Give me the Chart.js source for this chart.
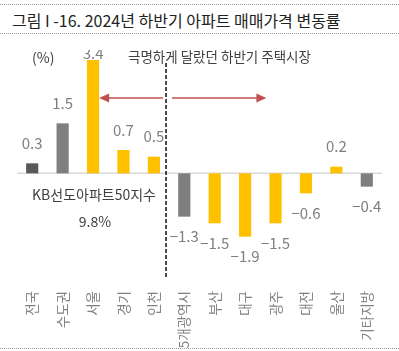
<!DOCTYPE html>
<html>
<head>
<meta charset="utf-8">
<script src="https://cdn.jsdelivr.net/npm/chart.js"></script>
<style>
  body { margin: 0; background: #fff; }
  #wrap { position: relative; width: 399px; height: 351px; overflow: hidden; font-family: 'Noto Sans CJK KR', 'Noto Sans', sans-serif; }
  #title {
    position: absolute; left: 0; top: 4px; width: 399px; height: 30px;
    border-top: 1px dotted #9a9a9a; border-bottom: 1px dotted #9a9a9a;
    line-height: 30px; padding-left: 12px; box-sizing: border-box;
    font-size: 16px; color: #222; white-space: nowrap;
  }
  #bottomLine { position: absolute; left: 0; top: 348px; width: 399px; border-top: 1px dotted #9a9a9a; }
  #chart { position: absolute; left: 0; top: 0; }
</style>
</head>
<body>
<div id="wrap">
  <div id="title">그림 I -16. 2024년 하반기 아파트 매매가격 변동률</div>
  <canvas id="chart" width="399" height="351"></canvas>
  <div id="bottomLine"></div>
</div>
<script>
// 지역 및 변동률(%)
const categories = ['전국', '수도권', '서울', '경기', '인천', '5개광역시', '부산', '대구', '광주', '대전', '울산', '기타지방'];
const changeRates = [0.3, 1.5, 3.4, 0.7, 0.5, -1.3, -1.5, -1.9, -1.5, -0.6, 0.2, -0.4];
const regionLevels = ['national', 'group', 'city', 'city', 'city', 'group', 'city', 'city', 'city', 'city', 'city', 'group'];

const unitLabel = '(%)';
const noteText = '극명하게 달랐던 하반기 주택시장';
const indexName = 'KB선도아파트50지수';
const indexValue = '9.8%';

const levelColors = { national: '#595959', group: '#7f7f7f', city: '#ffc000' };
const FONT = "'Noto Sans CJK KR', 'Noto Sans', sans-serif";

function fmt(v) {
    return v < 0 ? '\u2212' + Math.abs(v).toFixed(1) : v.toFixed(1);
}

const overlay = {
    id: 'overlay',
    beforeDatasetsDraw(chart) {
        const { ctx, chartArea, scales } = chart;
        const y0 = scales.y.getPixelForValue(0);
        ctx.save();
        ctx.strokeStyle = '#d9d9d9';
        ctx.lineWidth = 1.5;
        ctx.beginPath();
        ctx.moveTo(chartArea.left, y0);
        ctx.lineTo(chartArea.right, y0);
        ctx.stroke();
        ctx.restore();
    },
    afterDatasetsDraw(chart) {
        const { ctx, scales } = chart;
        const meta = chart.getDatasetMeta(0);

        // 값 레이블 (맨 위 레이블은 잘려 보임)
        ctx.save();
        ctx.beginPath();
        ctx.rect(0, 50, chart.width, chart.height);
        ctx.clip();
        ctx.font = '15px ' + FONT;
        ctx.fillStyle = '#7f7f7f';
        ctx.textAlign = 'center';
        ctx.textBaseline = 'middle';
        meta.data.forEach((bar, i) => {
            const v = changeRates[i];
            const y = v >= 0 ? Math.max(bar.y - 20, 53) : bar.y + 20;
            ctx.fillText(fmt(v), bar.x, y);
        });
        ctx.restore();

        // 수도권/지방 구분 점선
        const xDiv = scales.x.getPixelForValue(4.4);
        ctx.save();
        ctx.strokeStyle = '#111';
        ctx.lineWidth = 1.5;
        ctx.setLineDash([4, 2]);
        ctx.beginPath();
        ctx.moveTo(xDiv, 63);
        ctx.lineTo(xDiv, 278);
        ctx.stroke();
        ctx.restore();

        // 화살표
        const ya = 98;
        const xl = scales.x.getPixelForValue(2.2);
        const xr = scales.x.getPixelForValue(7.7);
        ctx.save();
        ctx.strokeStyle = '#c0504d';
        ctx.fillStyle = '#c0504d';
        ctx.lineWidth = 1.5;
        ctx.beginPath();
        ctx.moveTo(xl + 8, ya);
        ctx.lineTo(xDiv - 3, ya);
        ctx.moveTo(xDiv + 6, ya);
        ctx.lineTo(xr - 8, ya);
        ctx.stroke();
        ctx.beginPath();
        ctx.moveTo(xl, ya);
        ctx.lineTo(xl + 10, ya - 4.5);
        ctx.lineTo(xl + 10, ya + 4.5);
        ctx.closePath();
        ctx.moveTo(xr, ya);
        ctx.lineTo(xr - 10, ya - 4.5);
        ctx.lineTo(xr - 10, ya + 4.5);
        ctx.closePath();
        ctx.fill();
        ctx.restore();

        // 텍스트
        ctx.save();
        ctx.fillStyle = '#404040';
        ctx.textBaseline = 'middle';
        ctx.font = '14px ' + FONT;
        ctx.textAlign = 'left';
        ctx.fillText(unitLabel, 32, 58);
        ctx.font = '13.5px ' + FONT;
        ctx.fillText(noteText, 128, 57);
        ctx.textAlign = 'center';
        ctx.font = '14px ' + FONT;
        ctx.fillText(indexName, 94, 195);
        ctx.fillText(indexValue, 95, 222);
        ctx.restore();
    }
};

new Chart(document.getElementById('chart'), {
    type: 'bar',
    data: {
        labels: categories,
        datasets: [{
            data: changeRates,
            backgroundColor: regionLevels.map(l => levelColors[l]),
            barPercentage: 0.4,
            categoryPercentage: 1
        }]
    },
    options: {
        responsive: false,
        animation: false,
        devicePixelRatio: 1,
        layout: { padding: { top: 40, left: 17, right: 17, bottom: 0 } },
        plugins: {
            legend: { display: false },
            tooltip: { enabled: false }
        },
        scales: {
            x: {
                grid: { display: false },
                border: { display: false },
                ticks: {
                    color: '#808080',
                    font: { size: 13.5, family: FONT },
                    minRotation: 90,
                    maxRotation: 90,
                    autoSkip: false,
                    padding: 3
                },
                afterFit(scale) { scale.height = 71; }
            },
            y: {
                display: false,
                min: -3.2,
                max: 4
            }
        }
    },
    plugins: [overlay]
});
</script>
</body>
</html>
